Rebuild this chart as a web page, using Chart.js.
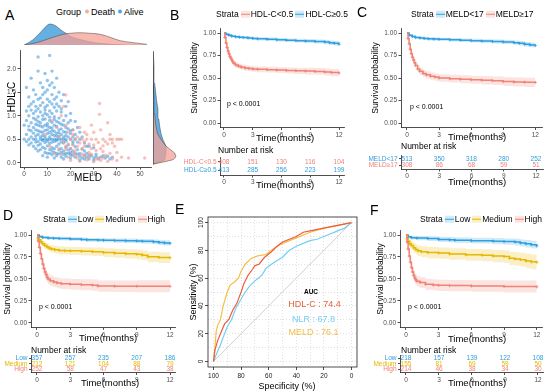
<!DOCTYPE html>
<html><head><meta charset="utf-8">
<script src="https://cdn.jsdelivr.net/npm/chart.js@4.4.0/dist/chart.umd.min.js"></script>
<style>
html,body{margin:0;padding:0;background:#fff;}
body{width:550px;height:392px;position:relative;overflow:hidden;font-family:"Liberation Sans",Arial,Helvetica,sans-serif;}
canvas{position:absolute;}
.t{position:absolute;white-space:nowrap;line-height:1;color:#000;z-index:5;}
</style></head><body>
<script>
// ---------------- DATA ----------------
// Panel A scatter: [MELD, HDL-C]
const alivePts = [[6,2.25],[11,2.28],[3,1.8],[6,1.95],[9,1.9],[12,1.95],[7,1.7],[10,1.75],[14,1.8],[1,1.6],[4,1.55],[8,1.6],[11,1.65],[13,1.6],[15,1.5],[5,1.45],[9,1.5],[12,1.45],[17,1.45],[2,1.4],[7,1.38],[10,1.35],[14,1.4],[16,1.32],[19,1.3],
[3,1.25],[5,1.2],[8,1.28],[10,1.22],[12,1.25],[13,1.18],[15,1.2],[6,1.15],[9,1.12],[11,1.1],[14,1.1],[4,1.05],[7,1.08],[10,1.02],[12,1.05],[16,1.08],[18,1.0],[2,1.0],[6,0.98],[8,1.0],[13,0.98],[15,0.95],[20,1.05],[1,0.9],[5,0.92],[9,0.93],[11,0.9],[14,0.88],[17,0.9],[3,0.85],[7,0.85],[10,0.83],[12,0.86],[16,0.82],[19,0.85],[22,0.88],
[2,0.78],[4,0.75],[6,0.8],[8,0.76],[10,0.78],[12,0.74],[14,0.77],[16,0.72],[18,0.75],[21,0.7],[3,0.68],[5,0.7],[7,0.66],[9,0.69],[11,0.65],[13,0.67],[15,0.64],[17,0.66],[20,0.62],[24,0.65],[1,0.6],[6,0.6],[8,0.58],[10,0.62],[12,0.6],[14,0.57],[18,0.58],[22,0.6],
[0,0.5],[2,0.5],[4,0.5],[5,0.5],[7,0.5],[8,0.5],[9,0.5],[10,0.5],[11,0.5],[12,0.5],[13,0.5],[14,0.5],[15,0.5],[16,0.5],[17,0.5],[18,0.5],[20,0.5],[22,0.5],[24,0.5],
[1,0.45],[3,0.42],[5,0.44],[7,0.4],[9,0.43],[11,0.41],[13,0.45],[15,0.4],[17,0.42],[19,0.38],[21,0.4],[23,0.44],[26,0.42],[4,0.35],[6,0.37],[8,0.33],[10,0.36],[12,0.32],[14,0.35],[16,0.3],[18,0.33],[20,0.3],[22,0.34],[25,0.3],[28,0.35],[30,0.32],
[6,0.25],[9,0.22],[11,0.2],[12,0.17],[13,0.22],[14,0.15],[15,0.19],[16,0.12],[17,0.18],[18,0.14],[19,0.2],[20,0.1],[21,0.16],[22,0.12],[23,0.18],[24,0.14],[25,0.1],[26,0.16],[27,0.12],[28,0.08],[29,0.15],[30,0.1],[31,0.13],[32,0.08],[33,0.12],[35,0.1],[36,0.14],[38,0.12],[8,0.15],[10,0.12],[13,0.1],[17,0.08],[20,0.22],[24,0.06],[27,0.2],[30,0.05],
[4,0.95],[6,0.88],[8,0.92],[9,1.05],[11,0.97],[13,0.92],[15,0.85],[17,0.8],[5,0.82],[7,0.78],[9,0.8],[11,0.75],[13,0.8],[15,0.7],[19,0.72],[23,0.75],[2,0.7],[4,0.63],[6,0.68],[8,0.65],[10,0.7],[12,0.68],[14,0.63],[16,0.6],[18,0.65],[20,0.68],[3,0.55],[5,0.57],[7,0.55],[9,0.56],[11,0.55],[13,0.58],[15,0.56],[17,0.55],[19,0.55],[21,0.55],[6,0.45],[8,0.47],[10,0.46],[12,0.44],[14,0.47],[16,0.44],[18,0.46],[2,0.38],[5,0.3],[7,0.28],[9,0.3],[11,0.28],[13,0.3],[15,0.27],[17,0.25],[19,0.27],[21,0.25],[23,0.28],[10,0.2],[12,0.25],[14,0.2],[16,0.22],[18,0.2],[20,0.17],[22,0.2],[24,0.2],[26,0.08],[28,0.16],[31,0.18],[34,0.15],[37,0.08],[9,1.18],[11,1.3],[13,1.35],[7,1.22],[5,1.1],[3,1.12],[16,1.15],[18,1.2],[8,1.45],[10,1.55],[12,1.7],[14,1.25],[0,0.8],[1,1.1],[2,1.2],[4,1.3],[6,1.35],[20,0.9],[21,0.45],[25,0.55],[27,0.35],[26,0.25]];
const deathPts = [[12,0.9],[14,0.75],[16,1.0],[18,0.8],[17,1.2],[18,1.44],[19,0.65],[21,0.7],[23,0.55],[24,0.75],[27,0.6],[32.5,1.26],[32.5,1.03],[36,0.85],[33,0.7],[30,0.65],[37,0.6],
[20,0.5],[22,0.5],[25,0.5],[27,0.5],[29,0.5],[31,0.5],[34,0.5],[37,0.5],[38,0.5],[40,0.5],[41,0.5],[42,0.5],
[17,0.45],[19,0.4],[21,0.38],[24,0.42],[26,0.35],[28,0.4],[30,0.38],[32,0.43],[34,0.36],[36,0.4],[39,0.35],[15,0.3],[18,0.28],[22,0.25],[25,0.28],[28,0.22],[31,0.26],[34,0.24],[37,0.2],[40,0.22],
[16,0.18],[19,0.12],[21,0.2],[23,0.1],[26,0.15],[29,0.18],[32,0.1],[35,0.16],[38,0.08],[42,0.12],[45,0.1],[52,0.1],[20,0.05],[24,0.03],[27,0.06],[30,0.02],[33,0.05],[36,0.03],[40,0.05],[13,0.2],[11,0.35],[9,0.6],[15,0.55],
[20,0.3],[23,0.35],[26,0.45],[29,0.3],[33,0.3],[35,0.45],[38,0.42],[22,0.15],[25,0.18],[28,0.12],[31,0.08],[34,0.1],[18,0.35],[21,0.6],[26,0.65],[29,0.8]];
// Panel A marginal densities (heights)
const topAliveX = [0,3.6,7.2,10,11.4,13.6,15.7,17.9,20,23.6,27.9,32,38,44,52.5];
const topAliveY = [0,5,13.3,20,21,19,15,11.7,8.3,5.7,3.3,1.7,0.7,0,0];
const topDeathX = [0,5.3,11,16.7,19.6,23.9,28.2,32.5,36.8,41.1,46.8,52.5];
const topDeathY = [0,2.3,6.7,10.7,11.7,12.3,11.7,10.7,7.7,4.3,2.3,0.7];
const rightAliveH = [-0.03,0.02,0.06,0.2,0.34,0.47,0.6,0.75,0.9,1.09,1.3,1.64,2.0,2.3];
const rightAliveW = [0,8,11.7,13,13,10,8,6.7,5.8,5,3.5,1.7,1,0.3];
const rightDeathH = [-0.03,0.02,0.06,0.12,0.2,0.34,0.47,0.6,0.8,1.0,1.3,1.6,2.0];
const rightDeathW = [0,12,20,23,21.7,13,8.3,4.5,2.5,1.8,1,0.4,0];

// KM axes
const kmTicks = [0,3,6,9,12];
const survTicks = [0,0.25,0.5,0.75,1];

// Panel B
const bRedT = [0,0.1,0.2,0.3,0.4,0.5,0.6,0.7,0.8,0.9,1.0,1.2,1.5,1.8,2.2,2.6,3.0,3.5,4.5,5.5,6.5,7.5,8.5,9.5,10.5,11.2,12];
const bRedS = [1,0.95,0.89,0.84,0.80,0.77,0.74,0.72,0.70,0.68,0.665,0.645,0.63,0.62,0.61,0.605,0.60,0.597,0.593,0.588,0.584,0.58,0.577,0.573,0.567,0.56,0.555];
const bRedLo = [1,0.93,0.865,0.81,0.77,0.74,0.71,0.69,0.67,0.65,0.635,0.615,0.60,0.59,0.58,0.575,0.57,0.565,0.56,0.555,0.55,0.545,0.54,0.535,0.528,0.52,0.512];
const bRedHi = [1,0.97,0.915,0.87,0.83,0.80,0.77,0.75,0.73,0.71,0.695,0.675,0.66,0.65,0.64,0.635,0.63,0.628,0.625,0.62,0.618,0.615,0.613,0.61,0.605,0.6,0.597];
const bBlueT = [0,0.2,0.5,0.8,1.2,1.6,2,2.5,3,3.5,4.5,5.5,6.5,7.5,8.5,9.5,10.5,11,11.5,12];
const bBlueS = [1,0.985,0.975,0.965,0.958,0.953,0.95,0.945,0.94,0.935,0.93,0.925,0.92,0.915,0.91,0.905,0.9,0.893,0.885,0.875];
const bBlueLo = [1,0.975,0.962,0.951,0.943,0.937,0.933,0.928,0.922,0.917,0.911,0.905,0.9,0.894,0.888,0.882,0.876,0.868,0.86,0.85];
const bBlueHi = [1,0.995,0.988,0.979,0.973,0.969,0.967,0.962,0.958,0.953,0.949,0.945,0.94,0.936,0.932,0.928,0.924,0.918,0.91,0.9];
const bRows = ['HDL-C<0.5','HDL-C≥0.5'];
const bRisk1 = [408,151,130,116,104];
const bRisk2 = [413,285,256,223,199];

// Panel C
const cBlueT = [0,0.2,0.5,0.8,1.2,1.6,2,2.5,3,4,5,6,7,8,9,10,10.5,11,11.5,12];
const cBlueS = [1,0.975,0.96,0.95,0.945,0.94,0.935,0.932,0.93,0.925,0.92,0.915,0.91,0.905,0.9,0.893,0.885,0.875,0.868,0.86];
const cBlueLo = [1,0.963,0.946,0.935,0.929,0.923,0.918,0.914,0.912,0.906,0.9,0.895,0.889,0.883,0.877,0.869,0.86,0.849,0.841,0.832];
const cBlueHi = [1,0.987,0.974,0.965,0.961,0.957,0.952,0.95,0.948,0.944,0.94,0.935,0.931,0.927,0.923,0.917,0.91,0.901,0.895,0.888];
const cRedT = [0,0.1,0.2,0.3,0.4,0.5,0.6,0.7,0.8,1.0,1.2,1.5,1.8,2.2,2.6,3,4,5,6,7,8,9,10,11,12];
const cRedS = [1,0.94,0.88,0.82,0.77,0.73,0.70,0.67,0.64,0.60,0.575,0.55,0.535,0.52,0.51,0.50,0.492,0.486,0.48,0.475,0.47,0.46,0.455,0.452,0.45];
const cRedLo = [1,0.915,0.85,0.785,0.735,0.695,0.663,0.632,0.602,0.562,0.536,0.511,0.495,0.48,0.469,0.458,0.449,0.442,0.435,0.429,0.423,0.412,0.405,0.4,0.396];
const cRedHi = [1,0.965,0.91,0.855,0.805,0.765,0.737,0.708,0.678,0.638,0.614,0.589,0.575,0.56,0.551,0.542,0.535,0.53,0.525,0.521,0.517,0.508,0.505,0.504,0.504];
const cRows = ['MELD<17','MELD≥17'];
const cRisk1 = [513,350,318,280,252];
const cRisk2 = [308,86,68,59,51];

// Panel D
const dLowT = [0,0.2,0.5,1,1.5,2,3,4,4.5,5.5,6,7,8,9,9.5,10.5,11,11.5,12];
const dLowS = [1,0.982,0.972,0.965,0.962,0.96,0.955,0.95,0.945,0.942,0.94,0.937,0.935,0.932,0.928,0.922,0.915,0.91,0.905];
const dLowLo = [1,0.97,0.957,0.948,0.944,0.941,0.935,0.929,0.923,0.92,0.917,0.913,0.91,0.906,0.901,0.894,0.886,0.88,0.874];
const dLowHi = [1,0.994,0.987,0.982,0.98,0.979,0.975,0.971,0.967,0.964,0.963,0.961,0.96,0.958,0.955,0.95,0.944,0.94,0.936];
const dMedT = [0,0.1,0.2,0.35,0.5,0.7,0.9,1.1,1.3,1.6,2,2.5,3,4,5,6,7,8,9,9.5,10,11,12];
const dMedS = [1,0.97,0.945,0.92,0.9,0.88,0.865,0.85,0.84,0.832,0.825,0.822,0.82,0.815,0.81,0.8,0.793,0.787,0.78,0.77,0.752,0.745,0.74];
const dMedLo = [1,0.948,0.916,0.887,0.864,0.842,0.825,0.809,0.798,0.789,0.781,0.777,0.774,0.768,0.762,0.75,0.741,0.733,0.724,0.712,0.691,0.682,0.675];
const dMedHi = [1,0.99,0.972,0.951,0.934,0.916,0.903,0.889,0.881,0.874,0.868,0.866,0.864,0.861,0.857,0.849,0.843,0.838,0.833,0.825,0.81,0.805,0.802];
const dHighT = [0,0.1,0.2,0.3,0.4,0.5,0.6,0.7,0.8,0.9,1.0,1.2,1.5,1.8,2.2,3,4,5,5.5,7,9,12];
const dHighS = [1,0.93,0.86,0.79,0.73,0.67,0.62,0.58,0.55,0.52,0.50,0.48,0.465,0.455,0.447,0.44,0.435,0.43,0.42,0.418,0.418,0.418];
const dHighLo = [1,0.9,0.818,0.742,0.678,0.617,0.565,0.523,0.492,0.462,0.441,0.421,0.406,0.396,0.387,0.379,0.373,0.367,0.356,0.352,0.35,0.348];
const dHighHi = [1,0.96,0.902,0.838,0.782,0.723,0.675,0.637,0.608,0.578,0.559,0.539,0.524,0.514,0.507,0.501,0.497,0.493,0.484,0.484,0.486,0.488];
const riskRows3 = ['Low','Medium','High'];
const dRiskLow = [357,257,235,207,186];
const dRiskMed = [212,121,104,88,79];
const dRiskHigh = [252,58,47,43,38];

// Panel E (ROC): specificity / sensitivity, %
const rocMeldSpec = [100,99,98,97,95,93,90,88,85,82,80,77,73,68,62,58,52,45,40,30,20,10,0];
const rocMeldSens = [0,10,22,26,30,40,50,55,57,60,65,70,74,76,77,80,84,87,89,93,96,98,100];
const rocHdlSpec = [100,99,97,95,92,89,86,83,80,78,75,72,70,67,63,58,55,50,45,40,35,30,20,10,0];
const rocHdlSens = [0,8,15,20,27,30,37,42,50,56,62,66,69,70,75,79,82,86,88,90,93,94,96,98,100];
const rocNlrSpec = [100,98,95,92,90,87,84,80,77,74,70,65,62,58,55,50,45,40,35,30,25,20,10,5,0];
const rocNlrSens = [0,5,12,20,25,30,38,45,50,54,58,62,67,70,72,75,80,83,85,87,88,90,94,96,100];
const rocGrid = [0,10,20,30,40,50,60,70,80,90,100];
const aucLabels = ['HDL-C : 74.4','NLR : 67.8','MELD : 76.1'];

// Panel F
const fLowT = [0,0.2,0.5,1,2,3,4,4.5,6,8,9,10,10.5,11,11.5,12];
const fLowS = [1,0.98,0.97,0.965,0.96,0.95,0.945,0.94,0.935,0.93,0.925,0.92,0.91,0.9,0.89,0.875];
const fLowLo = [1,0.962,0.948,0.94,0.933,0.921,0.914,0.908,0.902,0.895,0.889,0.882,0.87,0.858,0.846,0.828];
const fLowHi = [1,0.998,0.992,0.99,0.987,0.979,0.976,0.972,0.968,0.965,0.961,0.958,0.95,0.942,0.934,0.922];
const fMedT = [0,0.1,0.2,0.35,0.5,0.7,0.9,1.1,1.4,2,3,4,5.5,7,8,9,9.5,10,10.5,11,11.5,12];
const fMedS = [1,0.96,0.93,0.9,0.88,0.855,0.835,0.82,0.81,0.8,0.795,0.785,0.775,0.77,0.76,0.755,0.735,0.728,0.72,0.705,0.695,0.69];
const fMedLo = [1,0.93,0.89,0.853,0.828,0.8,0.777,0.76,0.748,0.737,0.731,0.72,0.708,0.701,0.69,0.683,0.66,0.651,0.641,0.623,0.611,0.604];
const fMedHi = [1,0.99,0.97,0.947,0.932,0.91,0.893,0.88,0.872,0.863,0.859,0.85,0.842,0.839,0.83,0.827,0.81,0.805,0.799,0.787,0.779,0.776];
const fHighT = [0,0.1,0.2,0.3,0.4,0.5,0.6,0.7,0.8,0.9,1.0,1.3,1.8,2.5,3,4,6,9,12];
const fHighS = [1,0.92,0.84,0.76,0.69,0.63,0.58,0.54,0.51,0.49,0.475,0.46,0.44,0.432,0.428,0.425,0.42,0.415,0.41];
const fHighLo = [1,0.885,0.795,0.71,0.636,0.574,0.522,0.481,0.451,0.43,0.415,0.399,0.378,0.369,0.364,0.36,0.354,0.348,0.342];
const fHighHi = [1,0.955,0.885,0.81,0.744,0.686,0.638,0.599,0.569,0.55,0.535,0.521,0.502,0.495,0.492,0.49,0.486,0.482,0.478];
const fRiskLow = [218,157,139,122,108];
const fRiskMed = [155,81,69,59,50];
const fRiskHigh = [214,46,38,34,30];

// ---------------- STYLE ----------------
const FONT = '"Liberation Sans", Arial, Helvetica, sans-serif';
const BLUE = '#2E9FDF', BLUE_B = 'rgba(46,159,223,0.22)';
const RED = '#F08377', RED_B = 'rgba(240,131,119,0.22)';
const YEL = '#E7B800', YEL_B = 'rgba(231,184,0,0.22)';
const AX = '#222', TK = '#4d4d4d';
Chart.defaults.font.family = FONT;
Chart.defaults.animation = false;
Chart.defaults.events = [];
Chart.defaults.plugins.legend.display = false;
Chart.defaults.plugins.tooltip.enabled = false;

function mkCanvas(l,t,w,h){const c=document.createElement('canvas');c.width=w;c.height=h;Object.assign(c.style,{left:l+'px',top:t+'px',width:w+'px',height:h+'px'});document.body.appendChild(c);return c;}
function txt(s,x,y,size,opt={}){const d=document.createElement('div');d.className='t';d.textContent=s;d.style.left=x+'px';d.style.top=y+'px';d.style.fontSize=size+'px';if(opt.color)d.style.color=opt.color;if(opt.bold)d.style.fontWeight='bold';const a=opt.anchor||'c';let tr=a==='c'?'translate(-50%,-50%)':a==='l'?'translate(0,-50%)':'translate(-100%,-50%)';if(opt.rot)tr+=' rotate(-90deg)';d.style.transform=tr;document.body.appendChild(d);return d;}
function legend(x,y,size,title,items){const d=document.createElement('div');d.className='t';Object.assign(d.style,{left:x+'px',top:y+'px',fontSize:size+'px',transform:'translate(0,-50%)',display:'flex',alignItems:'center'});
 let h='<span>'+title+'</span>';items.forEach(it=>{h+='<span style="display:inline-block;width:9px;height:7px;margin:0 1px 0 2px;background:linear-gradient('+it.c+','+it.c+') center/100% 1.4px no-repeat,'+it.b+'"></span><span>'+it.l+'</span>';});d.innerHTML=h;document.body.appendChild(d);}

const gridOpt = {drawOnChartArea:false,tickLength:2.5,color:AX,lineWidth:0.8};
const borderOpt = {color:AX,width:0.8};

function kmChart(box,area,xr,curves){
  const c=mkCanvas(box.l,box.t,box.w,box.h);
  const ds=[];
  curves.forEach(cv=>ds.push({data:cv.t.map((x,i)=>({x,y:cv.s[i]})),borderColor:cv.color,borderWidth:1.5,
    pointStyle:'cross',pointRadius:ctx=>ctx.dataIndex===0?0:1.6,pointBorderWidth:0.8,pointBorderColor:cv.color,fill:false,stepped:true}));
  curves.forEach(cv=>{
    ds.push({data:cv.t.map((x,i)=>({x,y:cv.hi[i]})),borderColor:'transparent',borderWidth:0,pointRadius:0,fill:false,stepped:true});
    ds.push({data:cv.t.map((x,i)=>({x,y:cv.lo[i]})),borderColor:'transparent',borderWidth:0,pointRadius:0,fill:'-1',backgroundColor:cv.band,stepped:true});
  });
  new Chart(c,{type:'line',data:{datasets:ds},options:{responsive:false,devicePixelRatio:1,
    layout:{padding:{left:0,top:area.t-box.t,right:box.l+box.w-area.r,bottom:0}},
    scales:{
      x:{type:'linear',min:xr[0],max:xr[1],afterFit:s=>{s.height=box.t+box.h-area.b;},afterBuildTicks:s=>{s.ticks=kmTicks.map(v=>({value:v}));},
         ticks:{font:{size:6.5},color:TK,padding:1,maxRotation:0,autoSkip:false},grid:gridOpt,border:borderOpt},
      y:{type:'linear',min:-0.05,max:1.05,afterFit:s=>{s.width=area.l-box.l;},afterBuildTicks:s=>{s.ticks=survTicks.map(v=>({value:v}));},
         ticks:{font:{size:6.5},color:TK,padding:1.5,autoSkip:false,callback:v=>Number(v).toFixed(2)},grid:gridOpt,border:borderOpt}
    }}});
}
const riskTextPlugin={id:'riskText',afterDatasetsDraw(chart){const ctx=chart.ctx;chart.data.datasets.forEach((d,di)=>{if(!d.riskText)return;const meta=chart.getDatasetMeta(di);ctx.save();ctx.font='6.5px '+FONT;ctx.fillStyle=d.riskColor;ctx.textAlign='center';ctx.textBaseline='middle';meta.data.forEach((el,i)=>ctx.fillText(String(d.riskText[i]),el.x,el.y));ctx.restore();});}};
function riskChart(box,area,xr,rows,colors,counts){
  const c=mkCanvas(box.l,box.t,box.w,box.h);
  const ds=counts.map((cn,r)=>({data:kmTicks.map(t=>({x:t,y:r})),pointRadius:0,riskText:cn,riskColor:colors[r]}));
  new Chart(c,{type:'scatter',data:{datasets:ds},plugins:[riskTextPlugin],options:{responsive:false,devicePixelRatio:1,
    layout:{padding:{left:0,top:area.t-box.t,right:box.l+box.w-area.r,bottom:0}},
    scales:{
      x:{type:'linear',min:xr[0],max:xr[1],afterFit:s=>{s.height=box.t+box.h-area.b;},afterBuildTicks:s=>{s.ticks=kmTicks.map(v=>({value:v}));},
         ticks:{font:{size:6.5},color:TK,padding:1,maxRotation:0,autoSkip:false},grid:gridOpt,border:borderOpt},
      y:{type:'linear',min:-0.5,max:rows.length-0.5,reverse:true,afterFit:s=>{s.width=area.l-box.l;},afterBuildTicks:s=>{s.ticks=rows.map((_,i)=>({value:i}));},
         ticks:{font:{size:6.5},color:ctx=>colors[ctx.index],padding:1.5,autoSkip:false,callback:v=>rows[v]},grid:{...gridOpt,tickLength:2},border:borderOpt}
    }}});
}

// ---------------- PANEL A ----------------
(function(){
  const xr=[-1.8,54.7], yr=[-0.09,2.39];
  const c=mkCanvas(0,45,155,140);
  new Chart(c,{type:'scatter',data:{datasets:[
    {data:deathPts.map(p=>({x:p[0],y:p[1]})),backgroundColor:'rgba(244,150,140,0.6)',borderWidth:0,pointRadius:1.7},
    {data:alivePts.map(p=>({x:p[0],y:p[1]})),backgroundColor:'rgba(40,140,215,0.5)',borderWidth:0,pointRadius:1.7}
  ]},options:{responsive:false,devicePixelRatio:1,layout:{padding:{left:0,top:2,right:3,bottom:0}},
    scales:{
      x:{type:'linear',min:xr[0],max:xr[1],afterFit:s=>{s.height=18;},afterBuildTicks:s=>{s.ticks=[0,10,20,30,40,50].map(v=>({value:v}));},ticks:{font:{size:6.5},color:TK,padding:1,maxRotation:0,autoSkip:false},grid:gridOpt,border:borderOpt},
      y:{type:'linear',min:yr[0],max:yr[1],afterFit:s=>{s.width=20;},afterBuildTicks:s=>{s.ticks=[0,0.5,1,1.5,2].map(v=>({value:v}));},ticks:{font:{size:6.5},color:TK,padding:1.5,autoSkip:false,callback:v=>Number(v).toFixed(1)},grid:gridOpt,border:borderOpt}
    }}});
  const t=mkCanvas(20,17,132,28);
  new Chart(t,{type:'line',data:{datasets:[
    {data:topDeathX.map((x,i)=>({x,y:topDeathY[i]})),borderColor:'rgba(60,60,60,0.8)',borderWidth:0.6,backgroundColor:'rgba(244,160,150,0.75)',fill:'origin',pointRadius:0,tension:0.35},
    {data:topAliveX.map((x,i)=>({x,y:topAliveY[i]})),borderColor:'rgba(60,60,60,0.8)',borderWidth:0.6,backgroundColor:'rgba(40,145,215,0.72)',fill:'origin',pointRadius:0,tension:0.35}
  ]},options:{responsive:false,devicePixelRatio:1,layout:{padding:0},scales:{x:{type:'linear',display:false,min:xr[0],max:xr[1]},y:{display:false,min:0,max:28}}}});
  // right marginal: closed shapes (curve, then back along the baseline width 0)
  const shape=(H,W)=>H.map((y,i)=>({x:W[i],y})).concat([{x:0,y:H[H.length-1]},{x:0,y:H[0]}]);
  const r=mkCanvas(153,47,30,120);
  new Chart(r,{type:'scatter',data:{datasets:[
    {data:shape(rightDeathH,rightDeathW),showLine:true,borderColor:'rgba(60,60,60,0.8)',borderWidth:0.6,backgroundColor:'rgba(244,160,150,0.75)',fill:'shape',pointRadius:0,tension:0},
    {data:shape(rightAliveH,rightAliveW),showLine:true,borderColor:'rgba(60,60,60,0.8)',borderWidth:0.6,backgroundColor:'rgba(40,145,215,0.72)',fill:'shape',pointRadius:0,tension:0}
  ]},options:{responsive:false,devicePixelRatio:1,layout:{padding:0},scales:{x:{type:'linear',display:false,min:0,max:30},y:{type:'linear',display:false,min:yr[0],max:yr[1]}}}});
  txt('A',5,15,14,{anchor:'l'});
  const d=document.createElement('div');d.className='t';Object.assign(d.style,{left:'56px',top:'11.5px',fontSize:'9px',transform:'translate(0,-50%)',display:'flex',alignItems:'center'});
  d.innerHTML='<span>Group</span><span style="display:inline-block;width:4px;height:4px;border-radius:50%;background:rgba(244,150,140,0.8);margin:0 2px 0 4px"></span><span>Death</span><span style="display:inline-block;width:4px;height:4px;border-radius:50%;background:rgba(40,140,215,0.8);margin:0 2px 0 3px"></span><span>Alive</span>';
  document.body.appendChild(d);
  txt('HDL-C',11.5,97,10,{rot:true});
  txt('MELD',88,178,10);
})();

// ---------------- PANEL B ----------------
kmChart({l:180,t:20,w:170,h:130},{l:220,r:344,t:28.5,b:127.5},[-0.417,12.52],[
  {t:bRedT,s:bRedS,lo:bRedLo,hi:bRedHi,color:RED,band:RED_B},
  {t:bBlueT,s:bBlueS,lo:bBlueLo,hi:bBlueHi,color:BLUE,band:BLUE_B}]);
riskChart({l:180,t:152,w:170,h:40},{l:220,r:344,t:157,b:175},[-0.417,12.52],bRows,[RED,BLUE],[bRisk1,bRisk2]);
txt('B',170,14.5,14,{anchor:'l'});
legend(216,14,8.5,'Strata',[{c:RED,b:RED_B,l:bRows[0]},{c:BLUE,b:BLUE_B,l:bRows[1]}]);
txt('Survival probability',194,78,8.5,{rot:true});
txt('p < 0.0001',227,103,7,{anchor:'l'});
txt('Time(months)',285,138,9.5);
txt('Number at risk',218,150,8.5,{anchor:'l'});
txt('Time(months)',285,185,9.5);

// ---------------- PANEL C ----------------
kmChart({l:362,t:20,w:185,h:130},{l:401,r:543,t:28.5,b:127.5},[-0.558,12.65],[
  {t:cRedT,s:cRedS,lo:cRedLo,hi:cRedHi,color:RED,band:RED_B},
  {t:cBlueT,s:cBlueS,lo:cBlueLo,hi:cBlueHi,color:BLUE,band:BLUE_B}]);
riskChart({l:362,t:150,w:185,h:42},{l:401,r:543,t:155.5,b:169},[-0.558,12.65],cRows,[BLUE,RED],[cRisk1,cRisk2]);
txt('C',357,12,14,{anchor:'l'});
legend(411,14,8.5,'Strata',[{c:BLUE,b:BLUE_B,l:cRows[0]},{c:RED,b:RED_B,l:cRows[1]}]);
txt('Survival probability',375,78,8.5,{rot:true});
txt('p < 0.0001',410,106,7,{anchor:'l'});
txt('Time(months)',477,137,9.5);
txt('Number at risk',401,146,8.5,{anchor:'l'});
txt('Time(months)',477,182,9.5);

// ---------------- PANEL D ----------------
kmChart({l:0,t:222,w:180,h:120},{l:31,r:175,t:230.6,b:327.4},[-0.541,12.45],[
  {t:dHighT,s:dHighS,lo:dHighLo,hi:dHighHi,color:RED,band:RED_B},
  {t:dMedT,s:dMedS,lo:dMedLo,hi:dMedHi,color:YEL,band:YEL_B},
  {t:dLowT,s:dLowS,lo:dLowLo,hi:dLowHi,color:BLUE,band:BLUE_B}]);
riskChart({l:0,t:350,w:180,h:42},{l:31,r:175,t:354,b:372.5},[-0.541,12.45],riskRows3,[BLUE,YEL,RED],[dRiskLow,dRiskMed,dRiskHigh]);
txt('D',3,215,14,{anchor:'l'});
legend(43,219,8.5,'Strata',[{c:BLUE,b:BLUE_B,l:'Low'},{c:YEL,b:YEL_B,l:'Medium'},{c:RED,b:RED_B,l:'High'}]);
txt('Survival probability',7,279,8.5,{rot:true});
txt('p < 0.0001',39,306,7,{anchor:'l'});
txt('Time(months)',108,338,9.5);
txt('Number at risk',31,350,8.5,{anchor:'l'});
txt('Time(months)',110,383,9.5);

// ---------------- PANEL E ----------------
(function(){
  const c=mkCanvas(180,200,180,192);
  const ePlugin={id:'eBox',afterDraw(chart){const {ctx,chartArea:a}=chart;const ys=chart.scales.y;ctx.save();ctx.strokeStyle=AX;ctx.lineWidth=0.8;ctx.strokeRect(a.left,a.top,a.right-a.left,a.bottom-a.top);
    ctx.fillStyle='#222';ctx.font='6.5px '+FONT;ctx.textAlign='center';ctx.textBaseline='middle';
    rocGrid.filter(v=>v%20===0).forEach(v=>{const y=ys.getPixelForValue(v);ctx.save();ctx.translate(a.left-7,y);ctx.rotate(-Math.PI/2);ctx.fillText(String(v),0,0);ctx.restore();});ctx.restore();}};
  const eGrid={color:'rgba(185,185,185,0.75)',lineWidth:0.6,tickLength:3,tickColor:ctx=>(ctx.tick&&ctx.tick.value%20===0)?AX:'transparent',tickWidth:0.8,tickBorderDash:[]};
  new Chart(c,{type:'line',data:{datasets:[
    {data:rocHdlSpec.map((x,i)=>({x,y:rocHdlSens[i]})),borderColor:'#EE5D3B',borderWidth:1.2,pointRadius:0,fill:false},
    {data:rocNlrSpec.map((x,i)=>({x,y:rocNlrSens[i]})),borderColor:'#72D0F2',borderWidth:1.2,pointRadius:0,fill:false},
    {data:rocMeldSpec.map((x,i)=>({x,y:rocMeldSens[i]})),borderColor:'#F5BE45',borderWidth:1.2,pointRadius:0,fill:false},
    {data:[{x:100,y:0},{x:0,y:100}],borderColor:'#cfcfcf',borderWidth:1,pointRadius:0,fill:false}
  ]},plugins:[ePlugin],options:{responsive:false,devicePixelRatio:1,layout:{padding:{left:0,top:17,right:3,bottom:0}},
    scales:{
      x:{type:'linear',min:-4,max:104,reverse:true,afterFit:s=>{s.height=25;},afterBuildTicks:s=>{s.ticks=rocGrid.map(v=>({value:v}));},ticks:{font:{size:6.5},color:'#222',padding:2,maxRotation:0,autoSkip:false,callback:v=>v%20===0?String(v):''},grid:eGrid,border:{display:false,dash:[1,2]}},
      y:{type:'linear',min:-4,max:104,afterFit:s=>{s.width=28;},afterBuildTicks:s=>{s.ticks=rocGrid.map(v=>({value:v}));},ticks:{font:{size:6.5},padding:2,autoSkip:false,callback:()=>''},grid:eGrid,border:{display:false,dash:[1,2]}}
    }}});
  txt('E',175,209,14,{anchor:'l'});
  txt('Sensitivity (%)',193,292,9,{rot:true});
  txt('Specificity (%)',287,386,9);
  txt('AUC',311,291.7,6.5,{bold:true});
  txt(aucLabels[0],314.5,304.3,9,{color:'#EE5D3B'});
  txt(aucLabels[1],313.5,319.3,9,{color:'#72D0F2'});
  txt(aucLabels[2],313.5,332,9,{color:'#F5BE45'});
})();

// ---------------- PANEL F ----------------
kmChart({l:365,t:222,w:182,h:120},{l:400,r:543.5,t:230.6,b:327.4},[-0.545,12.5],[
  {t:fHighT,s:fHighS,lo:fHighLo,hi:fHighHi,color:RED,band:RED_B},
  {t:fMedT,s:fMedS,lo:fMedLo,hi:fMedHi,color:YEL,band:YEL_B},
  {t:fLowT,s:fLowS,lo:fLowLo,hi:fLowHi,color:BLUE,band:BLUE_B}]);
riskChart({l:365,t:350,w:182,h:42},{l:400,r:543.5,t:354,b:372.5},[-0.545,12.5],riskRows3,[BLUE,YEL,RED],[fRiskLow,fRiskMed,fRiskHigh]);
txt('F',370,210,14,{anchor:'l'});
legend(420,219,8.5,'Strata',[{c:BLUE,b:BLUE_B,l:'Low'},{c:YEL,b:YEL_B,l:'Medium'},{c:RED,b:RED_B,l:'High'}]);
txt('Survival probability',380,279,8.5,{rot:true});
txt('p < 0.0001',408,306,7,{anchor:'l'});
txt('Time(months)',477,339,9.5);
txt('Number at risk',401,350,8.5,{anchor:'l'});
txt('Time(months)',477,383,9.5);
</script>
</body></html>
